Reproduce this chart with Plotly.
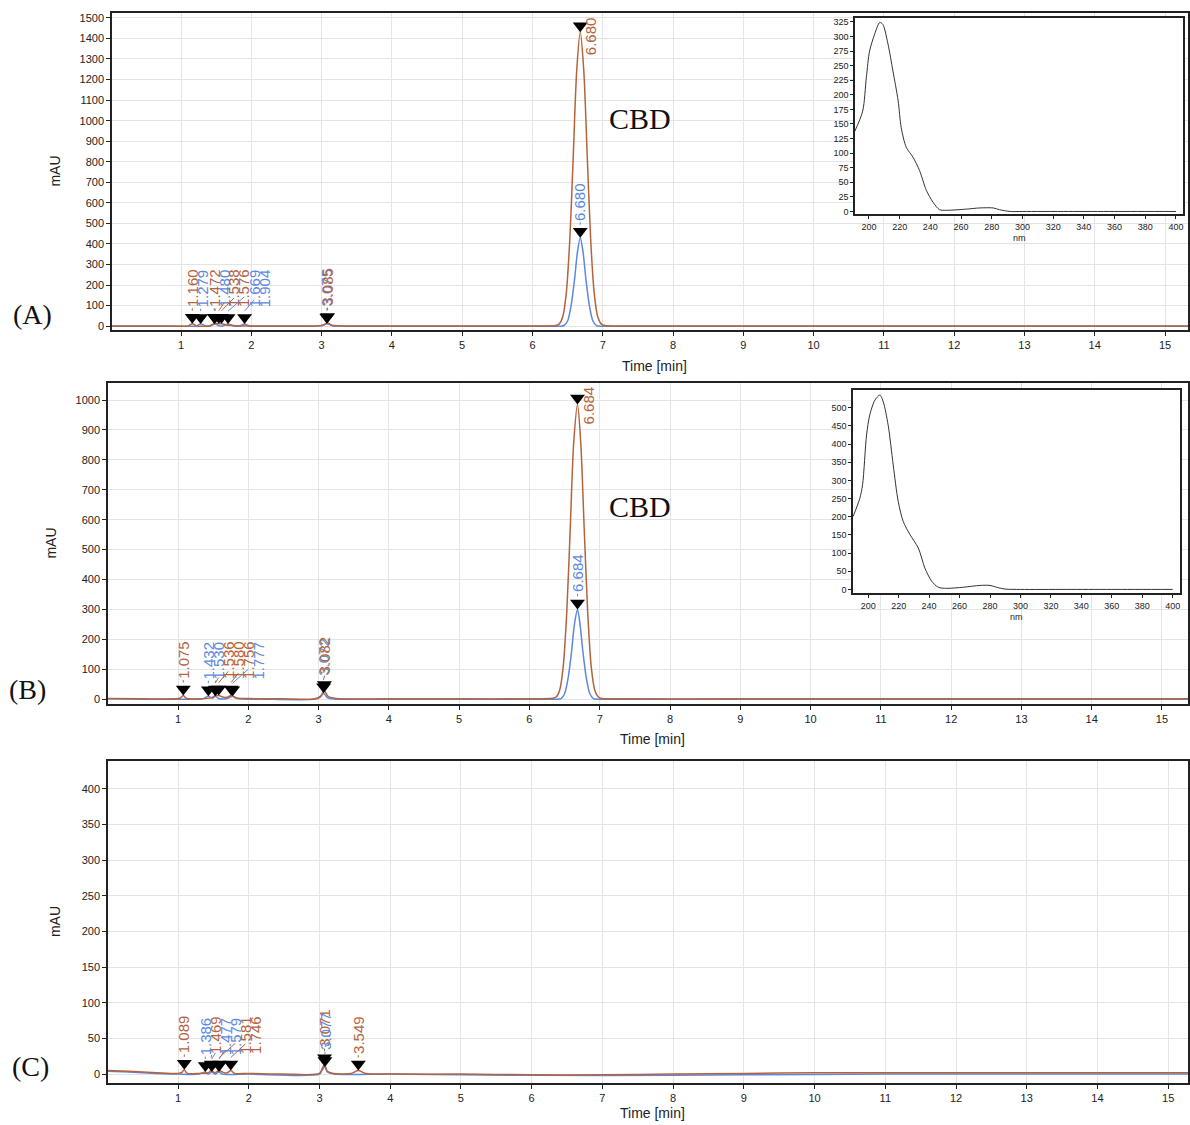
import plotly.graph_objects as go

W, H = 1190, 1125
BROWN = "#b5633d"
BLUE = "#5b88e2"
SANS = "Liberation Sans, Arial, sans-serif"
SERIF = "Liberation Serif, Times New Roman, serif"

# ---------------- Panel A chromatogram ----------------
a_brown_t = [0.02, 0.5, 1.0, 1.10, 1.16, 1.22, 1.40, 1.472, 1.538, 1.576, 1.65, 1.80, 2.2, 2.9, 3.02, 3.085, 3.15, 3.3, 4.0, 5.0, 6.0,
             6.33, 6.38, 6.43, 6.48, 6.53, 6.58, 6.63, 6.68, 6.73, 6.78, 6.83, 6.88, 6.93, 6.98, 7.03, 7.2, 8, 10, 12, 14, 15.33]
a_brown_y = [1, 1, 0, 1, 12, 1, 1, 12, 12, 12, 5, 2, 1, 1, 5, 15, 4, 1, 1, 1, 1,
             3, 10, 44, 156, 412, 822, 1245, 1430, 1245, 822, 412, 156, 44, 10, 3, 1, 1, 1, 1, 1, 1]
a_blue_t = [0.02, 0.5, 1.0, 1.20, 1.279, 1.36, 1.42, 1.48, 1.55, 1.60, 1.669, 1.75, 1.84, 1.904, 1.97, 2.2, 2.9, 3.0, 3.075, 3.15, 3.3, 4.0, 6.0,
            6.40, 6.45, 6.50, 6.55, 6.60, 6.64, 6.68, 6.72, 6.76, 6.81, 6.86, 6.91, 6.96, 7.2, 10, 15.33]
a_blue_y = [0, 0, 0, 0, 10, 0, 1, 10, 1, 1, 10, 1, 1, 10, 1, 0, 0, 2, 12, 2, 0, 0, 0,
            0, 3, 25, 100, 230, 360, 430, 360, 230, 100, 25, 3, 0, 0, 0, 0]
a_pk_brown_t = [1.160, 1.472, 1.538, 1.576, 3.085, 6.680]
a_pk_brown_h = [12, 12, 12, 12, 15, 1430]
a_pk_blue_t = [1.279, 1.480, 1.669, 1.904, 3.075, 6.680]
a_pk_blue_h = [10, 10, 10, 10, 12, 430]

# ---------------- Panel B chromatogram ----------------
b_brown_t = [0.0, 0.5, 0.95, 1.03, 1.075, 1.12, 1.3, 1.48, 1.536, 1.58, 1.65, 1.70, 1.756, 1.82, 2.0, 2.5, 2.95, 3.03, 3.082, 3.14, 3.25, 4, 5, 6,
             6.33, 6.38, 6.43, 6.48, 6.53, 6.58, 6.63, 6.684, 6.73, 6.78, 6.83, 6.88, 6.93, 6.98, 7.03, 7.2, 9, 12, 15.37]
b_brown_y = [2, 1, 1, 3, 12, 2, 1, 5, 12, 12, 6, 6, 12, 4, 2, 1, 1, 10, 27, 8, 2, 1, 1, 1,
             3, 7, 30, 107, 285, 566, 858, 985, 858, 566, 285, 107, 30, 7, 2, 1, 1, 1, 1]
b_blue_t = [0.0, 0.5, 1.0, 1.35, 1.432, 1.49, 1.530, 1.58, 1.70, 1.777, 1.85, 2.2, 2.95, 3.02, 3.072, 3.13, 3.25, 4, 6,
            6.40, 6.45, 6.50, 6.55, 6.60, 6.64, 6.684, 6.72, 6.76, 6.81, 6.86, 6.91, 6.96, 7.2, 10, 15.37]
b_blue_y = [1, 0, 0, 1, 10, 3, 10, 2, 2, 10, 2, 0, 0, 6, 20, 4, 0, 0, 0,
            0, 2, 18, 70, 160, 250, 300, 250, 160, 70, 18, 2, 0, 0, 0, 0]
b_pk_brown_t = [1.075, 1.536, 1.580, 1.756, 3.082, 6.684]
b_pk_brown_h = [12, 12, 12, 12, 27, 985]
b_pk_blue_t = [1.432, 1.530, 1.777, 3.072, 6.684]
b_pk_blue_h = [10, 10, 10, 20, 300]

# ---------------- Panel C chromatogram ----------------
c_brown_t = [0.01, 0.3, 0.7, 1.0, 1.05, 1.089, 1.13, 1.3, 1.43, 1.469, 1.52, 1.581, 1.65, 1.70, 1.746, 1.80, 2.0, 2.5, 3.0, 3.04, 3.071, 3.11,
             3.2, 3.45, 3.549, 3.65, 4, 5, 6, 7, 8, 9, 10, 11, 12, 13, 14, 15.28]
c_brown_y = [5, 4, 2, 1, 2, 6, 1, 1, 2, 5, 2, 5, 2, 2, 5, 1, 1, 0, 1, 8, 14, 4,
             1, 1, 5, 1, 0, 0, -1, -1, 0, 1, 2, 2, 2, 2, 2, 2]
c_blue_t = [0.01, 0.3, 0.7, 1.0, 1.3, 1.386, 1.43, 1.477, 1.52, 1.579, 1.63, 2.0, 3.0, 3.04, 3.077, 3.11, 3.2, 4, 5, 7, 9, 11, 13, 15.28]
c_blue_y = [4, 3, 1, 0, 0, 3, 0, 3, 0, 3, 0, 0, 0, 6, 10, 3, 0, 0, -1, -2, -1, 0, 0, 0]
c_pk_brown_t = [1.089, 1.469, 1.581, 1.746, 3.071, 3.549]
c_pk_brown_h = [6, 5, 5, 5, 14, 5]
c_pk_blue_t = [1.386, 1.477, 1.579, 3.077]
c_pk_blue_h = [3, 3, 3, 10]

# ---------------- UV spectra (insets) ----------------
ia_nm = [190.5, 195.9, 198.3, 200.4, 203.7, 207, 209, 212.4, 215.6, 219, 221, 224.3, 228.7, 233, 237.4, 241.7, 246, 250.4,
         263.5, 272, 281, 285, 292, 300, 330, 360, 400]
ia_val = [136, 172, 230, 275, 304, 324, 321, 287, 241, 190, 144, 110, 93, 70, 36, 16, 3, 2,
          4, 6, 6, 3, 0, 0, 0, 0, 0]
ib_nm = [190.1, 194.5, 196.3, 198.9, 201, 204.4, 207.7, 209.9, 213.1, 216.4, 219.7, 223, 227.4, 232.9, 237.2, 241.6, 246, 251.5,
         262.4, 273.4, 280, 284.3, 289.8, 300, 330, 360, 400]
ib_val = [201, 251, 288, 425, 480, 521, 535, 516, 452, 343, 242, 187, 151, 114, 59, 23, 6, 3,
          6, 11, 11, 6, 1, 0, 0, 0, 0]

# ---------------- layout geometry (pixels) ----------------
panels = {
    "A": dict(x=(112, 1188), y=(12, 330), xr=(0.018, 15.327), yr=(-19.4, 1524), dt=100, ymax=1500, tt=36, my=55),
    "B": dict(x=(108, 1188), y=(383, 705), xr=(0.004, 15.37), yr=(-16.7, 1057), dt=100, ymax=1000, tt=35, my=51),
    "C": dict(x=(108, 1188), y=(762, 1085), xr=(0.01, 15.28), yr=(-12.6, 439), dt=50, ymax=400, tt=30, my=55),
}
insets = {
    "A": dict(x=(855, 1183), y=(17, 214), xr=(190.9, 404.6), yr=(-5.1, 331.8), dt=25, ymax=325),
    "B": dict(x=(853, 1180), y=(390, 594), xr=(190, 404.8), yr=(-11, 549), dt=50, ymax=500),
}


def dom_x(p):
    return [p[0] / W, p[1] / W]


def dom_y(p):
    return [1 - p[1] / H, 1 - p[0] / H]


fig = go.Figure()
layout = dict(width=W, height=H, margin=dict(l=0, r=0, t=0, b=0), paper_bgcolor="white",
              plot_bgcolor="white", showlegend=False, annotations=[])

axis_common = dict(showline=True, linecolor="#222", linewidth=1.5, mirror=True, ticks="outside",
                   ticklen=4, tickcolor="#222", tickfont=dict(family=SANS, size=11, color="#222"),
                   zeroline=False)

data_sets = {
    "A": (a_brown_t, a_brown_y, a_blue_t, a_blue_y, a_pk_brown_t, a_pk_brown_h, a_pk_blue_t, a_pk_blue_h),
    "B": (b_brown_t, b_brown_y, b_blue_t, b_blue_y, b_pk_brown_t, b_pk_brown_h, b_pk_blue_t, b_pk_blue_h),
    "C": (c_brown_t, c_brown_y, c_blue_t, c_blue_y, c_pk_brown_t, c_pk_brown_h, c_pk_blue_t, c_pk_blue_h),
}

TRI = 13          # marker size in px
LABEL_FS = 15
HALF_LEN = 19     # half length of a rotated label, px
LEAD = 4          # short leader line, px
SPREAD = 10       # min horizontal spacing of crowded labels, px

idx = 0
for key, p in panels.items():
    idx += 1
    xa = "x" if idx == 1 else f"x{idx}"
    ya = "y" if idx == 1 else f"y{idx}"
    layout["xaxis" if idx == 1 else f"xaxis{idx}"] = dict(
        axis_common, domain=dom_x(p["x"]), range=list(p["xr"]), anchor=ya,
        tickvals=list(range(1, 16)), showgrid=True, gridcolor="#e4e4e4")
    layout["yaxis" if idx == 1 else f"yaxis{idx}"] = dict(
        axis_common, domain=dom_y(p["y"]), range=list(p["yr"]), anchor=xa,
        tickvals=list(range(0, p["ymax"] + 1, p["dt"])), showgrid=True, gridcolor="#e4e4e4")
    bt, by, ut, uy, pbt, pbh, put, puh = data_sets[key]
    fig.add_trace(go.Scatter(x=ut, y=uy, mode="lines", line=dict(color=BLUE, width=1.5, shape="spline", smoothing=0.8),
                             xaxis=xa, yaxis=ya))
    fig.add_trace(go.Scatter(x=bt, y=by, mode="lines", line=dict(color=BROWN, width=1.5, shape="spline", smoothing=0.8),
                             xaxis=xa, yaxis=ya))
    # pixel scales
    pxx = (p["x"][1] - p["x"][0]) / (p["xr"][1] - p["xr"][0])
    pxy = (p["y"][1] - p["y"][0]) / (p["yr"][1] - p["yr"][0])
    marks = [(t, h, BROWN) for t, h in zip(pbt, pbh)] + [(t, h, BLUE) for t, h in zip(put, puh)]
    marks.sort(key=lambda m: m[0])
    # markers (tip at apex)
    fig.add_trace(go.Scatter(x=[m[0] for m in marks], y=[m[1] + (TRI / 2) / pxy for m in marks], mode="markers",
                             marker=dict(symbol="triangle-down", size=TRI, color="black"),
                             xaxis=xa, yaxis=ya))
    prev = -1e9
    for t, h, col in marks:
        mpx = p["x"][0] + (t - p["xr"][0]) * pxx
        if t < 2.5:
            lpx = max(mpx, prev + SPREAD)
            prev = lpx
        else:
            lpx = mpx
        top_y = h + TRI / pxy
        top_px = p["y"][1] - (top_y - p["yr"][0]) * pxy
        if top_px - LEAD - 2 * HALF_LEN < p["y"][0] + 2:
            # label would leave the plot: put it to the right of the marker
            center_px = p["y"][0] + 4 + HALF_LEN
            mcen_px = p["y"][1] - (h + (TRI / 2) / pxy - p["yr"][0]) * pxy
            layout["annotations"].append(dict(
                x=t, y=h + (TRI / 2) / pxy, xref=xa, yref=ya, text=f"{t:.3f}", textangle=-90,
                showarrow=False, xshift=11, yshift=mcen_px - center_px,
                xanchor="center", yanchor="middle",
                font=dict(family=SANS, size=LABEL_FS, color=col)))
        else:
            layout["annotations"].append(dict(
                x=t, y=top_y, xref=xa, yref=ya, text=f"{t:.3f}", textangle=-90,
                showarrow=True, arrowhead=0, arrowwidth=1, arrowcolor=col, standoff=0,
                ax=lpx - mpx, ay=-(LEAD + HALF_LEN),
                font=dict(family=SANS, size=LABEL_FS, color=col)))

# insets
for key, p in insets.items():
    idx += 1
    xa, ya = f"x{idx}", f"y{idx}"
    layout[f"xaxis{idx}"] = dict(axis_common, domain=dom_x(p["x"]), range=list(p["xr"]), anchor=ya,
                                tickvals=list(range(200, 401, 20)), showgrid=False,
                                tickfont=dict(family=SANS, size=9, color="#222"), ticklen=3)
    layout[f"yaxis{idx}"] = dict(axis_common, domain=dom_y(p["y"]), range=list(p["yr"]), anchor=xa,
                                tickvals=list(range(0, p["ymax"] + 1, p["dt"])), showgrid=False,
                                tickfont=dict(family=SANS, size=9, color="#222"), ticklen=3)
    nm, val = (ia_nm, ia_val) if key == "A" else (ib_nm, ib_val)
    fig.add_trace(go.Scatter(x=nm, y=val, mode="lines", line=dict(color="#333", width=1, shape="spline", smoothing=0.8),
                             xaxis=xa, yaxis=ya))
    layout["annotations"].append(dict(x=(p["x"][0] + p["x"][1]) / 2 / W, y=1 - (p["y"][1] + 24) / H,
                                      xref="paper", yref="paper", text="nm", showarrow=False,
                                      xanchor="center", yanchor="middle",
                                      font=dict(family=SANS, size=9, color="#222")))


def paper_text(x, y, text, size, family, color="#111", angle=0):
    layout["annotations"].append(dict(x=x / W, y=1 - y / H, xref="paper", yref="paper", text=text,
                                      showarrow=False, textangle=angle, xanchor="center", yanchor="middle",
                                      font=dict(family=family, size=size, color=color)))


for key, p in panels.items():
    paper_text(p["my"], (p["y"][0] + p["y"][1]) / 2, "mAU", 14, SANS, "#222", -90)
    paper_text((p["x"][0] + p["x"][1]) / 2 + 4, p["y"][1] + p["tt"], "Time [min]", 14, SANS, "#222")

paper_text(32, 314, "(A)", 28, SERIF)
paper_text(27, 690, "(B)", 28, SERIF)
paper_text(30, 1068, "(C)", 28, SERIF)
paper_text(640, 118, "CBD", 30, SERIF)
paper_text(640, 507, "CBD", 30, SERIF)

fig.update_layout(**layout)
fig.write_html("out.html", config={"displayModeBar": False},
               post_script="document.body.style.margin='0px';document.body.style.overflow='hidden';")
